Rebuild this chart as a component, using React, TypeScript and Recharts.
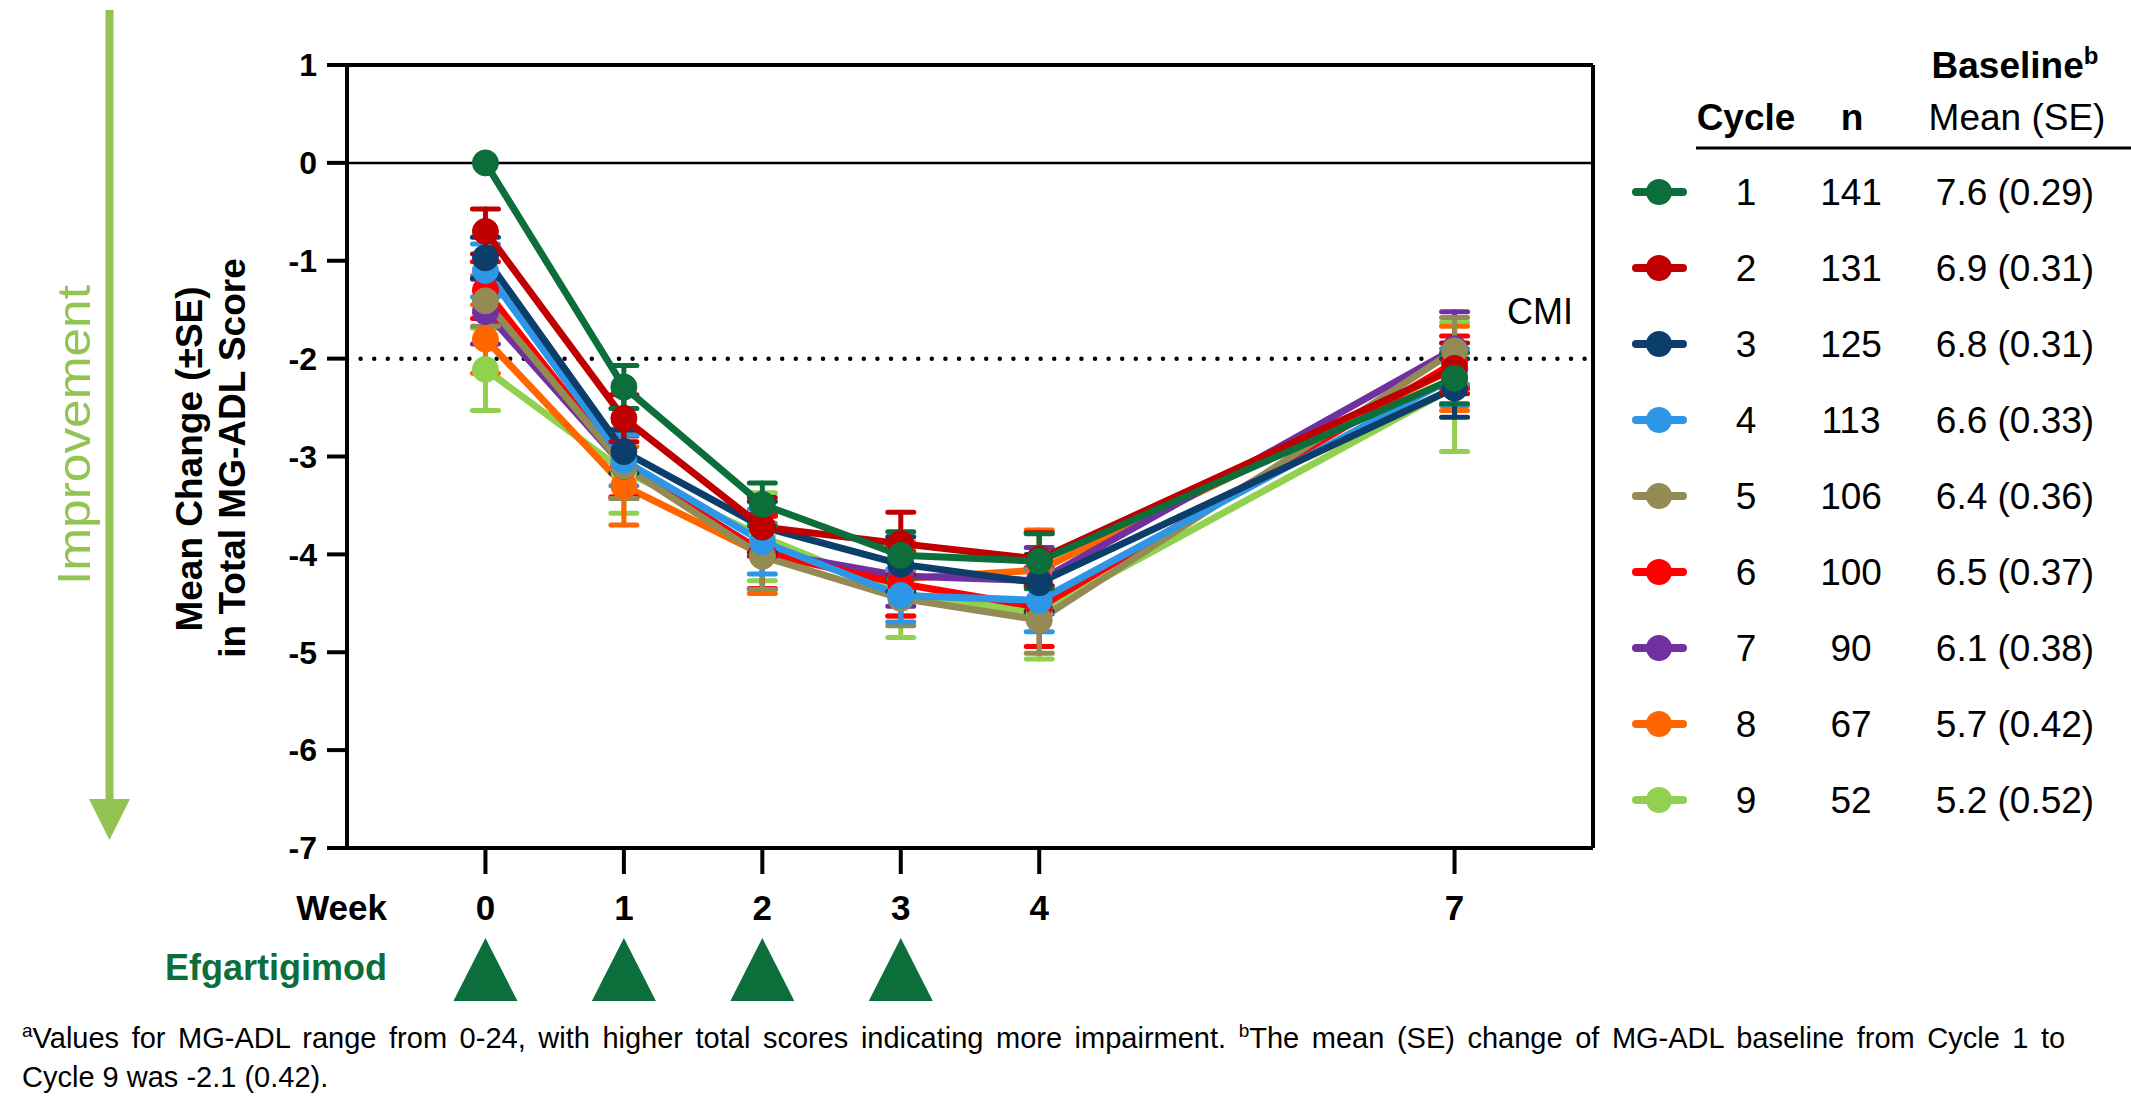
import React from 'react';
import { LineChart, Line, XAxis, YAxis, ErrorBar, ReferenceLine } from 'recharts';

const FONT = "'Liberation Sans', Arial, Helvetica, sans-serif";
const DARK_GREEN = '#0B6E3B';
const IMPROVE_GREEN = '#92C353';

const weeks = [0, 1, 2, 3, 4, 7];
const dosingWeeks = [0, 1, 2, 3];
const yTicks = [1, 0, -1, -2, -3, -4, -5, -6, -7];

const cycles = ['1', '2', '3', '4', '5', '6', '7', '8', '9'];
const cycleN = [141, 131, 125, 113, 106, 100, 90, 67, 52];
const baselineMean = ['7.6', '6.9', '6.8', '6.6', '6.4', '6.5', '6.1', '5.7', '5.2'];
const baselineSE = ['0.29', '0.31', '0.31', '0.33', '0.36', '0.37', '0.38', '0.42', '0.52'];
const cycleColors = ['#0B6E3B', '#C00000', '#0C3E6C', '#2E96E6', '#948A54', '#FF0000', '#7030A0', '#FF6600', '#92D050'];

// mean change at weeks 0,1,2,3,4,7
const cycle1Mean = [0, -2.29, -3.49, -4.01, -4.07, -2.2];
const cycle2Mean = [-0.7, -2.61, -3.72, -3.89, -4.05, -2.1];
const cycle3Mean = [-0.97, -2.95, -3.72, -4.1, -4.29, -2.3];
const cycle4Mean = [-1.1, -3.04, -3.87, -4.42, -4.47, -2.19];
const cycle5Mean = [-1.41, -3.1, -4.02, -4.45, -4.67, -1.92];
const cycle6Mean = [-1.3, -3.1, -3.98, -4.3, -4.54, -2.04];
const cycle7Mean = [-1.52, -3.1, -3.97, -4.22, -4.27, -1.9];
const cycle8Mean = [-1.8, -3.3, -4.0, -4.25, -4.16, -2.1];
const cycle9Mean = [-2.11, -3.15, -3.82, -4.4, -4.6, -2.29];

// standard errors at weeks 0,1,2,3,4,7
const cycle1SE = [0, 0.22, 0.22, 0.24, 0.28, 0.26];
const cycle2SE = [0.23, 0.24, 0.3, 0.32, 0.27, 0.26];
const cycle3SE = [0.21, 0.22, 0.26, 0.28, 0.29, 0.3];
const cycle4SE = [0.27, 0.26, 0.33, 0.27, 0.32, 0.29];
const cycle5SE = [0.26, 0.33, 0.34, 0.28, 0.34, 0.34];
const cycle6SE = [0.29, 0.31, 0.37, 0.33, 0.4, 0.27];
const cycle7SE = [0.33, 0.33, 0.38, 0.31, 0.34, 0.38];
const cycle8SE = [0.35, 0.4, 0.4, 0.38, 0.41, 0.43];
const cycle9SE = [0.42, 0.43, 0.45, 0.45, 0.47, 0.66];

const cycleMeans = [cycle1Mean, cycle2Mean, cycle3Mean, cycle4Mean, cycle5Mean, cycle6Mean, cycle7Mean, cycle8Mean, cycle9Mean];
const cycleSEs = [cycle1SE, cycle2SE, cycle3SE, cycle4SE, cycle5SE, cycle6SE, cycle7SE, cycle8SE, cycle9SE];

const chartData = weeks.map((w, i) => {
  const row: Record<string, number> = { week: w };
  cycleMeans.forEach((m, k) => {
    row[`m${k + 1}`] = m[i];
    row[`e${k + 1}`] = cycleSEs[k][i];
  });
  return row;
});

const XTick = (props: any) => {
  const { x, y, payload } = props;
  const v = payload.value;
  return (
    <g>
      <text x={x} y={y + 46} textAnchor="middle" fontSize={35} fontWeight="bold" fill="#000" fontFamily={FONT}>
        {v}
      </text>
      {dosingWeeks.includes(v) && (
        <polygon points={`${x},${y + 64} ${x - 32},${y + 127} ${x + 32},${y + 127}`} fill={DARK_GREEN} />
      )}
    </g>
  );
};

const drawOrder = [8, 7, 6, 5, 4, 3, 2, 1, 0];

export default function App() {
  const rowY0 = 192;
  const rowGap = 76;
  return (
    <div style={{ position: 'absolute', left: 0, top: 0, width: 2131, height: 1098, background: '#fff', fontFamily: FONT }}>
      <div style={{ position: 'absolute', left: 0, top: 0 }}>
        <LineChart width={2131} height={1098} data={chartData} margin={{ top: 65, right: 538, bottom: 190, left: 247 }}>
          <XAxis
            type="number"
            dataKey="week"
            domain={[-1, 8]}
            ticks={weeks}
            interval={0}
            height={60}
            axisLine={{ stroke: '#000', strokeWidth: 4 }}
            tickLine={{ stroke: '#000', strokeWidth: 4 }}
            tickSize={26}
            tickMargin={0}
            tick={<XTick />}
          />
          <YAxis
            type="number"
            domain={[-7, 1]}
            ticks={yTicks}
            interval={0}
            width={100}
            axisLine={{ stroke: '#000', strokeWidth: 4 }}
            tickLine={{ stroke: '#000', strokeWidth: 4 }}
            tickSize={20}
            tickMargin={10}
            tick={{ fontSize: 32, fontWeight: 'bold', fill: '#000', fontFamily: FONT }}
          />
          <ReferenceLine y={1} stroke="#000" strokeWidth={4} />
          <ReferenceLine x={8} stroke="#000" strokeWidth={4} />
          <ReferenceLine y={0} stroke="#000" strokeWidth={2.5} />
          <ReferenceLine y={-2} stroke="#000" strokeWidth={4.5} strokeDasharray="0 13.6" strokeLinecap="round" />
          {drawOrder.map((k) => (
            <Line
              key={k}
              type="linear"
              dataKey={`m${k + 1}`}
              stroke={cycleColors[k]}
              strokeWidth={7}
              dot={{ r: 13, fill: cycleColors[k], stroke: cycleColors[k], strokeWidth: 1 }}
              activeDot={false}
              isAnimationActive={false}
            >
              <ErrorBar
                dataKey={`e${k + 1}`}
                direction="y"
                width={13}
                stroke={cycleColors[k]}
                strokeWidth={5}
                strokeLinecap="round"
                isAnimationActive={false}
              />
            </Line>
          ))}
        </LineChart>
      </div>
      <svg width={2131} height={1098} style={{ position: 'absolute', left: 0, top: 0, pointerEvents: 'none' }}>
        {/* Improvement arrow */}
        <line x1={109.5} y1={10} x2={109.5} y2={805} stroke={IMPROVE_GREEN} strokeWidth={8} />
        <polygon points="89,799 130,799 109.5,840" fill={IMPROVE_GREEN} />
        <text
          x={90}
          y={435}
          transform="rotate(-90, 90, 435)"
          textAnchor="middle"
          fontSize={46}
          fill={IMPROVE_GREEN}
          fontFamily={FONT}
          textLength={300}
          lengthAdjust="spacingAndGlyphs"
        >
          Improvement
        </text>
        {/* Y axis title */}
        <text x={202} y={459} transform="rotate(-90, 202, 459)" textAnchor="middle" fontSize={37} fontWeight="bold" fill="#000" fontFamily={FONT}>
          Mean Change (±SE)
        </text>
        <text x={245} y={458} transform="rotate(-90, 245, 458)" textAnchor="middle" fontSize={37} fontWeight="bold" fill="#000" fontFamily={FONT}>
          in Total MG-ADL Score
        </text>
        {/* CMI */}
        <text x={1540} y={324} textAnchor="middle" fontSize={36} fill="#000" fontFamily={FONT}>
          CMI
        </text>
        {/* Week / Efgartigimod labels */}
        <text x={387} y={920} textAnchor="end" fontSize={35} fontWeight="bold" fill="#000" fontFamily={FONT}>
          Week
        </text>
        <text x={387} y={980} textAnchor="end" fontSize={36} fontWeight="bold" fill={DARK_GREEN} fontFamily={FONT}>
          Efgartigimod
        </text>
        {/* Legend table header */}
        <text x={2015} y={78} textAnchor="middle" fontSize={37} fontWeight="bold" fill="#000" fontFamily={FONT}>
          Baseline
          <tspan fontSize={24} dy={-14}>b</tspan>
        </text>
        <text x={2017} y={130} textAnchor="middle" fontSize={37} fill="#000" fontFamily={FONT}>
          Mean (SE)
        </text>
        <text x={1746} y={130} textAnchor="middle" fontSize={37} fontWeight="bold" fill="#000" fontFamily={FONT}>
          Cycle
        </text>
        <text x={1852} y={130} textAnchor="middle" fontSize={37} fontWeight="bold" fill="#000" fontFamily={FONT}>
          n
        </text>
        <line x1={1696} y1={148} x2={2131} y2={148} stroke="#000" strokeWidth={3} />
        {cycles.map((c, i) => {
          const cy = rowY0 + rowGap * i;
          return (
            <g key={c}>
              <line x1={1636} y1={cy} x2={1683} y2={cy} stroke={cycleColors[i]} strokeWidth={8} strokeLinecap="round" />
              <circle cx={1659} cy={cy} r={13} fill={cycleColors[i]} />
              <text x={1746} y={cy + 13} textAnchor="middle" fontSize={37} fill="#000" fontFamily={FONT}>
                {c}
              </text>
              <text x={1851} y={cy + 13} textAnchor="middle" fontSize={37} fill="#000" fontFamily={FONT}>
                {cycleN[i]}
              </text>
              <text x={2015} y={cy + 13} textAnchor="middle" fontSize={37} fill="#000" fontFamily={FONT}>
                {`${baselineMean[i]} (${baselineSE[i]})`}
              </text>
            </g>
          );
        })}
        {/* Footnote */}
        <text x={22} y={1048} fontSize={29} fill="#000" fontFamily={FONT} style={{ wordSpacing: '4.5px' }}>
          <tspan fontSize={19} dy={-11}>a</tspan>
          <tspan dy={11}>Values for MG-ADL range from 0-24, with higher total scores indicating more impairment. </tspan>
          <tspan fontSize={19} dy={-11}>b</tspan>
          <tspan dy={11}>The mean (SE) change of MG-ADL baseline from Cycle 1 to</tspan>
        </text>
        <text x={22} y={1087} fontSize={29} fill="#000" fontFamily={FONT}>
          Cycle 9 was -2.1 (0.42).
        </text>
      </svg>
    </div>
  );
}
